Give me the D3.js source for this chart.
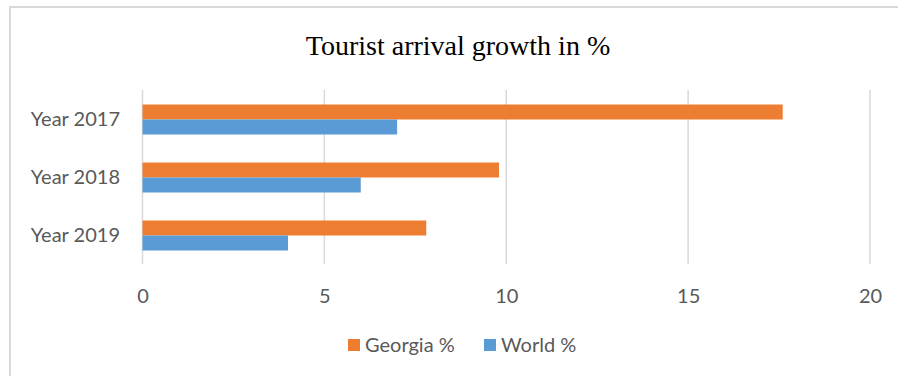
<!DOCTYPE html>
<html>
<head>
<meta charset="utf-8">
<script src="https://cdn.jsdelivr.net/npm/d3@7"></script>
<style>
  html, body { margin: 0; padding: 0; background: #fff; }
  svg { display: block; }
</style>
</head>
<body>
<svg id="chart" width="898" height="376"></svg>
<script>
const title = "Tourist arrival growth in %";
const categories = ["Year 2017", "Year 2018", "Year 2019"];
const seriesNames = ["Georgia %", "World %"];
const georgia = [17.6, 9.8, 7.8];
const world = [7, 6, 4];
const xTicks = [0, 5, 10, 15, 20];
const colors = ["#ED7D31", "#5B9BD5"];

const svg = d3.select("#chart");
const W = 898, H = 376;
const font = "Lato, 'Open Sans', sans-serif";
const textColor = "#595959";
const gridColor = "#d9d9d9";

// frame (left and top edges visible)
svg.append("line").attr("x1", 10).attr("x2", 10).attr("y1", 6).attr("y2", H)
  .attr("stroke", gridColor).attr("stroke-width", 2);
svg.append("line").attr("x1", 9).attr("x2", W).attr("y1", 7).attr("y2", 7)
  .attr("stroke", gridColor).attr("stroke-width", 2);

const x = d3.scaleLinear().domain([0, 20]).range([142.5, 870]);
const y = d3.scaleBand().domain(categories).range([90.5, 264.5]).padding(0);

// grid
svg.append("g").selectAll("line").data(xTicks).join("line")
  .attr("x1", d => x(d)).attr("x2", d => x(d))
  .attr("y1", 90).attr("y2", 264)
  .attr("stroke", gridColor).attr("stroke-width", 1.5);

const barH = 15;
const sub = d3.scaleBand().domain(seriesNames).range([0, barH * 2]);
const rows = categories.map((c, i) => ({ c, vals: [georgia[i], world[i]] }));

const g = svg.append("g");
rows.forEach(r => {
  const cy = y(r.c) + y.bandwidth() / 2 - barH;
  r.vals.forEach((v, j) => {
    g.append("rect")
      .attr("x", x(0))
      .attr("y", cy + sub(seriesNames[j]))
      .attr("width", x(v) - x(0))
      .attr("height", sub.bandwidth())
      .attr("fill", colors[j]);
  });
});

// x axis labels
const xAxis = d3.axisBottom(x).tickValues(xTicks).tickSize(0).tickPadding(0);
const xa = svg.append("g").attr("transform", "translate(0,289)").call(xAxis);
xa.select(".domain").remove();
xa.selectAll("text").attr("font-family", font).attr("font-size", 20)
  .attr("fill", textColor).attr("dy", "0.71em");

// y axis labels
const yAxis = d3.axisLeft(y).tickSize(0).tickPadding(0);
const ya = svg.append("g").attr("transform", "translate(120,0)").call(yAxis);
ya.select(".domain").remove();
ya.selectAll("text").attr("font-family", font).attr("font-size", 20)
  .attr("fill", textColor);

// title
svg.append("text").attr("x", 458).attr("y", 55).attr("text-anchor", "middle")
  .attr("font-family", "'Liberation Serif', 'Times New Roman', serif")
  .attr("font-size", 28).attr("fill", "#000").text(title);

// legend
const legendX = [348, 484];
const lg = svg.append("g");
seriesNames.forEach((s, i) => {
  lg.append("rect").attr("x", legendX[i]).attr("y", 339).attr("width", 12).attr("height", 12)
    .attr("fill", colors[i]);
  lg.append("text").attr("x", legendX[i] + 17).attr("y", 352)
    .attr("font-family", font).attr("font-size", 20).attr("fill", textColor).text(s);
});
</script>
</body>
</html>
